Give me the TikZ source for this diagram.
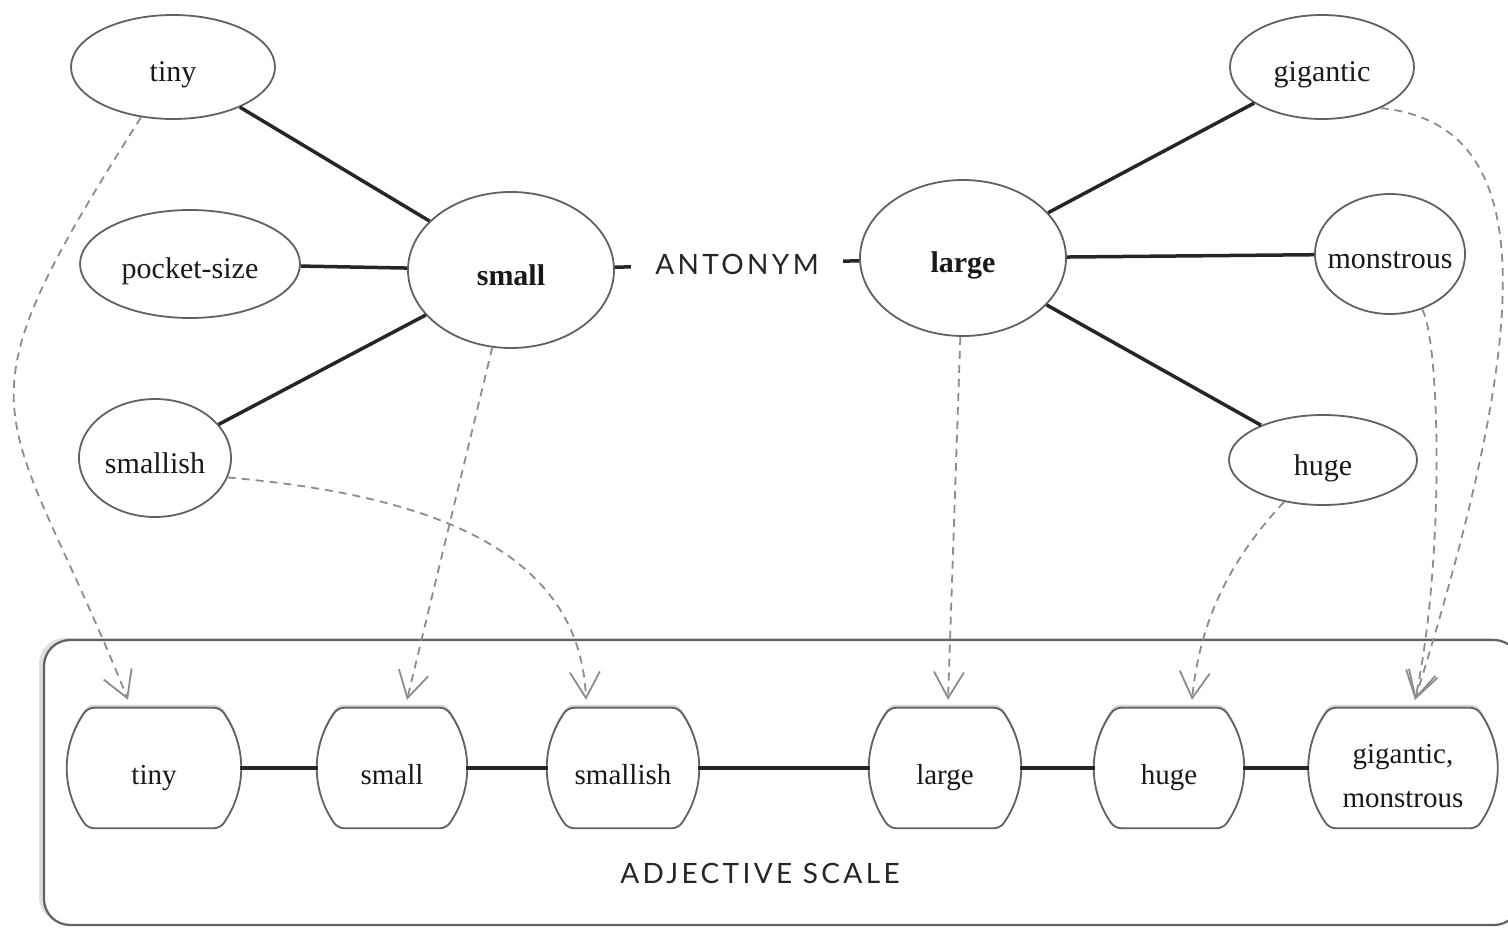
\documentclass[tikz,border=0pt]{standalone}
\usepackage{fontspec}
\setmainfont{Liberation Serif}
\newfontfamily\capfont[LetterSpace=12]{Lato}
\usetikzlibrary{shapes.geometric,arrows.meta,shadows,backgrounds}
\newcommand{\zw}[1]{\makebox[0pt]{\raisebox{-15pt}[0pt][0pt]{#1}}}
\newcommand{\bx}[1]{\raisebox{-16pt}[0pt][0pt]{#1}}
\newcommand{\boxoutline}[1]{%
  \path[boxline] (#1.north) -- ([xshift=-20pt]#1.north east)
    to[bend left=35] ([xshift=-20pt]#1.south east)
    -- ([xshift=20pt]#1.south west)
    to[bend left=35] ([xshift=20pt]#1.north west) -- cycle;}
\begin{document}
\begin{tikzpicture}[x=1pt,y=-1pt,
  ell/.style={ellipse, draw=black!62, line width=1.8pt, inner sep=0pt, fill=white,
    text=black!90, font=\fontsize{30}{32}\selectfont},
  sbox/.style={rectangle, minimum height=120pt, inner sep=0pt,
    text=black!90, font=\fontsize{29}{44}\selectfont},
  boxline/.style={draw=black!62, line width=1.8pt, fill=white, rounded corners=6pt,
    drop shadow={shadow xshift=0pt, shadow yshift=3pt, opacity=0.35}},
  framebox/.style={rectangle, draw=black!62, line width=2.2pt, rounded corners=26pt,
    fill=white, inner sep=0pt,
    drop shadow={shadow xshift=-5pt, shadow yshift=2pt, opacity=0.25}},
  link/.style={line width=3.5pt, draw=black!85},
  darr/.style={draw=black!45, line width=1.8pt, dash pattern=on 8pt off 6pt,
    -{Straight Barb[length=26pt,width=30pt]}},
  lab/.style={font=\capfont\fontsize{28}{30}\selectfont, text=black!85}
]
\useasboundingbox (0,0) rectangle (1508,928);

% container
\begin{pgfonlayer}{background}
\node[framebox, minimum width=1476pt, minimum height=285pt] (frame) at (782,782.5) {};
\end{pgfonlayer}
\node[lab] (adj) at (760,873) {ADJECTIVE SCALE};

% ellipses
\node[ell, minimum width=204pt, minimum height=104pt] (etiny) at (173,67) {\zw{tiny}};
\node[ell, minimum width=220pt, minimum height=108pt] (epocket) at (190,264) {\zw{pocket-size}};
\node[ell, minimum width=152pt, minimum height=118pt] (esmallish) at (155,458) {\zw{smallish}};
\node[ell, minimum width=206pt, minimum height=156pt] (esmall) at (511,270) {\zw{\bfseries small}};
\node[ell, minimum width=206pt, minimum height=156pt] (elarge) at (963,258) {\zw{\bfseries large}};
\node[ell, minimum width=184pt, minimum height=104pt] (egig) at (1322,67) {\zw{gigantic}};
\node[ell, minimum width=150pt, minimum height=120pt] (emon) at (1390,254) {\zw{monstrous}};
\node[ell, minimum width=188pt, minimum height=90pt] (ehuge) at (1323,460) {\zw{huge}};

% scale boxes
\node[sbox, minimum width=172pt] (btiny) at (154,768) {\bx{tiny}};
\node[sbox, minimum width=148pt] (bsmall) at (392,768) {\bx{small}};
\node[sbox, minimum width=150pt] (bsmallish) at (623,768) {\bx{smallish}};
\node[sbox, minimum width=150pt] (blarge) at (945,768) {\bx{large}};
\node[sbox, minimum width=148pt] (bhuge) at (1169,768) {\bx{huge}};
\node[sbox, minimum width=187pt] (bgig) at (1403,768)
  {\raisebox{5pt}[0pt][0pt]{\parbox[t]{160pt}{\centering gigantic,\\monstrous}}};
\begin{pgfonlayer}{background}
\boxoutline{btiny}
\boxoutline{bsmall}
\boxoutline{bsmallish}
\boxoutline{blarge}
\boxoutline{bhuge}
\boxoutline{bgig}
\end{pgfonlayer}

% similarity links
\draw[link] (esmall) -- (etiny);
\draw[link] (esmall) -- (epocket);
\draw[link] (esmall) -- (esmallish);
\draw[link] (elarge) -- (egig);
\draw[link] (elarge) -- (emon);
\draw[link] (elarge) -- (ehuge);
\draw[link] (esmall) -- node[lab, fill=white, inner xsep=24pt, inner ysep=6pt] (anto) {ANTONYM} (elarge);

% scale links
\draw[link] (btiny) -- (bsmall);
\draw[link] (bsmall) -- (bsmallish);
\draw[link] (bsmallish) -- (blarge);
\draw[link] (blarge) -- (bhuge);
\draw[link] (bhuge) -- (bgig);

% mapping arrows
\draw[darr] (etiny) .. controls (-56,427) and (5,393) .. ([xshift=-26pt,yshift=8pt]btiny.north);
\draw[darr] (esmall) -- ([xshift=15pt,yshift=8pt]bsmall.north);
\draw[darr] (esmallish.-15) .. controls (430,495) and (580,550) .. ([xshift=-37pt,yshift=8pt]bsmallish.north);
\draw[darr] (elarge) -- ([xshift=3pt,yshift=8pt]blarge.north);
\draw[darr] (ehuge) .. controls (1230,560) and (1200,620) .. ([xshift=23pt,yshift=8pt]bhuge.north);
\draw[darr] (emon) .. controls (1440,340) and (1445,560) .. ([xshift=12pt,yshift=8pt]bgig.north);
\draw[darr] (egig.-35) .. controls (1545,125) and (1530,330) .. ([xshift=12pt,yshift=8pt]bgig.north);
\end{tikzpicture}
\end{document}
